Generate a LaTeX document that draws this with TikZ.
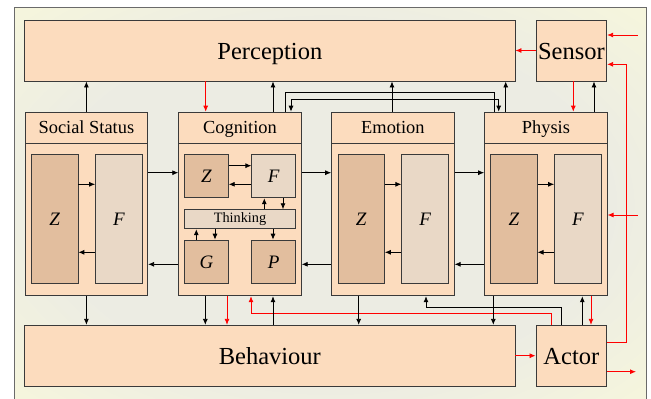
\documentclass[tikz,border=0pt]{standalone}
\usepackage{fontspec}
\setmainfont{Liberation Serif}
\usetikzlibrary{arrows.meta}
\definecolor{peach}{HTML}{FCDCBE}
\definecolor{zcol}{HTML}{E2BE9E}
\definecolor{fcol}{HTML}{E9D8C6}
\definecolor{bgin}{HTML}{ECECE3}
\definecolor{bgout}{HTML}{FFFFD6}
\definecolor{edgec}{HTML}{3A3A3A}
\definecolor{framec}{HTML}{6A6A6A}
\pgfdeclareradialshading{bgshade}{\pgfpoint{0bp}{0bp}}{color(0bp)=(bgin); color(22bp)=(bgin); color(48bp)=(bgout); color(80bp)=(bgout)}
\begin{document}
\begin{tikzpicture}[x=1pt,y=-1pt,
  bigbox/.style={draw=edgec, fill=peach, line width=0.9pt, inner sep=0pt, text height=17pt, text depth=0pt, font=\fontsize{24.5}{28}\selectfont},
  modbox/.style={draw=edgec, fill=peach, line width=0.9pt, inner sep=0pt, anchor=north west, minimum width=122.5pt, minimum height=183.6pt},
  hdbox/.style={draw=edgec, fill=peach, line width=0.9pt, inner sep=0pt, anchor=north west, minimum width=122.5pt, minimum height=31pt, text height=12.6pt, text depth=0pt, font=\fontsize{18.4}{22}\selectfont},
  zbox/.style={draw=edgec, fill=zcol, line width=0.9pt, inner sep=0pt, anchor=north west, font=\fontsize{19}{22}\selectfont\itshape},
  fbox/.style={draw=edgec, fill=fcol, line width=0.9pt, inner sep=0pt, anchor=north west, font=\fontsize{19}{22}\selectfont\itshape},
  tall/.style={minimum width=46.4pt, minimum height=129pt},
  small/.style={minimum width=43.5pt, minimum height=43pt},
  arr/.style={-{Latex[length=6pt,width=5pt]}, line width=0.85pt, draw=black},
  darr/.style={{Latex[length=6pt,width=5pt]}-{Latex[length=6pt,width=5pt]}, line width=0.85pt, draw=black},
  plain/.style={line width=0.85pt, draw=black},
  rarr/.style={-{Latex[length=6pt,width=5pt]}, line width=0.85pt, draw=red, color=red}
]
\useasboundingbox (0,0) rectangle (651,399);
\shade[shading=bgshade] (14.7,7.3) rectangle (646,402);
\draw[framec, line width=1pt] (14.7,7.3) rectangle (646,402);

% big boxes
\node[bigbox, minimum width=490.3pt, minimum height=61pt] (per) at (269.85,50.5) {Perception};
\node[bigbox, minimum width=70.7pt, minimum height=61pt] (sen) at (571.35,50.5) {Sensor};
\node[bigbox, minimum width=490.3pt, minimum height=61.4pt] (beh) at (269.85,356) {Behaviour};
\node[bigbox, minimum width=70.7pt, minimum height=61.4pt] (act) at (571.35,356) {Actor};

% modules
\node[modbox] (soc) at (24.7,111.7) {};
\node[hdbox] (sochd) at (soc.north west) {Social Status};
\node[modbox] (cog) at (178.3,111.7) {};
\node[hdbox] (coghd) at (cog.north west) {Cognition};
\node[modbox] (emo) at (331.2,111.7) {};
\node[hdbox] (emohd) at (emo.north west) {Emotion};
\node[modbox] (phy) at (484.2,111.7) {};
\node[hdbox] (phyhd) at (phy.north west) {Physis};

% inner boxes
\node[zbox, tall] (socz) at (31.1,154.3) {Z};
\node[fbox, tall] (socf) at (95.2,154.3) {F};
\node[zbox, tall] (emoz) at (337.5,154.3) {Z};
\node[fbox, tall] (emof) at (401.4,154.3) {F};
\node[zbox, tall] (phyz) at (490.2,154.3) {Z};
\node[fbox, tall] (phyf) at (554.2,154.3) {F};

\node[zbox, small] (cogz) at (184.3,154.3) {Z};
\node[fbox, small] (cogf) at (251.4,154.3) {F};
\node[fbox, minimum width=110.6pt, minimum height=19pt, font=\fontsize{14.3}{16}\selectfont] (think) at (184.3,209.3) {Thinking};
\node[zbox, small, minimum height=43.6pt] (cogg) at (184.3,239.7) {G};
\node[zbox, small, minimum height=43.6pt] (cogp) at (251.4,239.7) {P};

% top connectors
\draw[arr] (soc.north) -- (soc.north |- per.south);
\draw[rarr] (205.7,0 |- per.south) -- (205.7,0 |- cog.north);
\draw[arr] (273,0 |- cog.north) -- (273,0 |- per.south);
\draw[arr] (392,0 |- emo.north) -- (392,0 |- per.south);
\draw[arr] (505.7,0 |- phy.north) -- (505.7,0 |- per.south);
\draw[rarr] (sen.west) -- (per.east);
\draw[rarr] (573.3,0 |- sen.south) -- (573.3,0 |- phy.north);
\draw[arr] (594,0 |- phy.north) -- (594,0 |- sen.south);
\coordinate (inA) at (637.7,35);
\draw[rarr] (inA) -- (inA -| sen.east);
\draw[rarr] (act.east |- 0,342.3) -| (626,64.3) -- (sen.east |- 0,64.3);
\coordinate (inB) at (637.7,215);
\draw[rarr] (inB) -- (inB -| phy.east);
\coordinate (outA) at (636,371.7);
\draw[rarr] (act.east |- outA) -- (outA);

\draw[plain] (285,0 |- cog.north) |- (494,92.7) -- (494,0 |- phy.north);
\draw[darr] (291,0 |- cog.north) |- (498.7,99) -- (498.7,0 |- phy.north);

% middle connectors
\draw[arr] (soc.east |- 0,172.7) -- (cog.west |- 0,172.7);
\draw[arr] (cog.east |- 0,172.7) -- (emo.west |- 0,172.7);
\draw[arr] (emo.east |- 0,172.7) -- (phy.west |- 0,172.7);
\draw[arr] (cog.west |- 0,264.3) -- (soc.east |- 0,264.3);
\draw[arr] (emo.west |- 0,264.3) -- (cog.east |- 0,264.3);
\draw[arr] (phy.west |- 0,264.3) -- (emo.east |- 0,264.3);

% inner connectors
\draw[arr] (socz.east |- 0,184.3) -- (socf.west |- 0,184.3);
\draw[arr] (socf.west |- 0,252.3) -- (socz.east |- 0,252.3);
\draw[arr] (emoz.east |- 0,184.3) -- (emof.west |- 0,184.3);
\draw[arr] (emof.west |- 0,252.3) -- (emoz.east |- 0,252.3);
\draw[arr] (phyz.east |- 0,184.3) -- (phyf.west |- 0,184.3);
\draw[arr] (phyf.west |- 0,252.3) -- (phyz.east |- 0,252.3);
\draw[arr] (cogz.east |- 0,165.7) -- (cogf.west |- 0,165.7);
\draw[arr] (cogf.west |- 0,184.3) -- (cogz.east |- 0,184.3);
\draw[arr] (264.3,0 |- think.north) -- (264.3,0 |- cogf.south);
\draw[arr] (283,0 |- cogf.south) -- (283,0 |- think.north);
\draw[arr] (196.3,0 |- cogg.north) -- (196.3,0 |- think.south);
\draw[arr] (215,0 |- think.south) -- (215,0 |- cogg.north);
\draw[arr] (273,0 |- think.south) -- (273,0 |- cogp.north);

% bottom connectors
\draw[arr] (soc.south) -- (soc.south |- beh.north);
\draw[arr] (205.3,0 |- cog.south) -- (205.3,0 |- beh.north);
\draw[rarr] (227,0 |- cog.south) -- (227,0 |- beh.north);
\draw[rarr] (551,0 |- act.north) |- (251,313.7) -- (251,0 |- cog.south);
\draw[arr] (273,0 |- beh.north) -- (273,0 |- cog.south);
\draw[arr] (358.7,0 |- emo.south) -- (358.7,0 |- beh.north);
\draw[arr] (561,0 |- act.north) |- (426,307.7) -- (426,0 |- emo.south);
\draw[arr] (493.3,0 |- phy.south) -- (493.3,0 |- beh.north);
\draw[arr] (582.3,0 |- act.north) -- (582.3,0 |- phy.south);
\draw[rarr] (591,0 |- phy.south) -- (591,0 |- act.north);
\draw[rarr] (beh.east |- 0,355.7) -- (act.west |- 0,355.7);
\end{tikzpicture}
\end{document}
